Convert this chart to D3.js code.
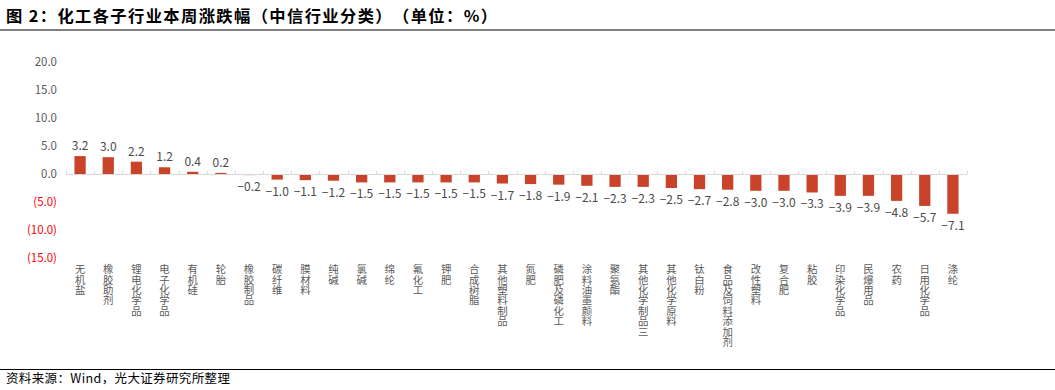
<!DOCTYPE html>
<html><head><meta charset="utf-8">
<script src="https://cdn.jsdelivr.net/npm/d3@7"></script>
<style>
html,body{margin:0;padding:0;background:#fff;}
svg{display:block;font-family:"Noto Sans CJK SC","Noto Sans",sans-serif;font-kerning:none;text-spacing-trim:space-all;}
.vlab{writing-mode:vertical-rl;text-orientation:upright;}
</style></head>
<body><svg id="c" width="1055" height="390"></svg>
<script>
const categories = ["无机盐","橡胶助剂","锂电化学品","电子化学品","有机硅","轮胎","橡胶制品","碳纤维","膜材料","纯碱","氯碱","绵纶","氟化工","钾肥","合成树脂","其他塑料制品","氮肥","磷肥及磷化工","涂料油墨颜料","聚氨酯","其他化学制品三","其他化学原料","钛白粉","食品及饲料添加剂","改性塑料","复合肥","粘胶","印染化学品","民爆用品","农药","日用化学品","涤纶"];
const values = [3.2,3.0,2.2,1.2,0.4,0.2,-0.2,-1.0,-1.1,-1.2,-1.5,-1.5,-1.5,-1.5,-1.5,-1.7,-1.8,-1.9,-2.1,-2.3,-2.3,-2.5,-2.7,-2.8,-3.0,-3.0,-3.3,-3.9,-3.9,-4.8,-5.7,-7.1];
const yTicks = [20,15,10,5,0,-5,-10,-15];
const title = "图 2：化工各子行业本周涨跌幅（中信行业分类）（单位：%）";
const source = "资料来源：Wind，光大证券研究所整理";

const svg = d3.select("#c");
const x = d3.scaleBand().domain(categories).range([66,967]).paddingInner(0.6).paddingOuter(0.3);
const y = d3.scaleLinear().domain([-15,20]).range([258,62]);

// title
svg.append("text").attr("x",6).attr("y",22).attr("font-size",16.3).attr("font-weight","bold").attr("fill","#000")
  .attr("textLength",491).attr("lengthAdjust","spacing").text(title);
svg.append("line").attr("x1",0).attr("x2",1055).attr("y1",30).attr("y2",30).attr("stroke","#808080").attr("stroke-width",2);

// y tick labels
const fmt = v => v < 0 ? "(" + d3.format(".1f")(-v) + ")" : d3.format(".1f")(v);
const yAxis = d3.axisLeft(y).tickValues(yTicks).tickFormat(fmt).tickSize(0).tickPadding(0);
const ga = svg.append("g").attr("transform","translate(57,0)").call(yAxis);
ga.select(".domain").remove();
ga.selectAll("text").attr("font-size",11.5).attr("font-family","'Noto Sans CJK SC',sans-serif")
  .attr("fill", d => d < 0 ? "#ff0000" : "#595959");

// bars
svg.append("g").selectAll("rect").data(values).join("rect")
  .attr("x",(d,i)=>x(categories[i]))
  .attr("width",x.bandwidth())
  .attr("y",d=>y(Math.max(0,d)))
  .attr("height",d=>Math.abs(y(d)-y(0)))
  .attr("fill","#C8432A");

// x axis line and ticks
const x0 = 66, x1 = 967;
svg.append("line").attr("x1",x0).attr("x2",x1).attr("y1",y(0)+0.5).attr("y2",y(0)+0.5).attr("stroke","#d9d9d9").attr("stroke-width",1);
const bnd = d3.range(categories.length+1).map(i => x0 + i*(x1-x0)/categories.length);
svg.append("g").selectAll("line").data(bnd).join("line")
  .attr("x1",d=>Math.round(d)+0.5).attr("x2",d=>Math.round(d)+0.5)
  .attr("y1",y(0)-3).attr("y2",y(0)).attr("stroke","#d9d9d9");

// value labels
svg.append("g").selectAll("text").data(values).join("text")
  .attr("x",(d,i)=>x(categories[i])+x.bandwidth()/2)
  .attr("y",d=> d>=0 ? y(d)-6 : y(d)+16)
  .attr("text-anchor","middle").attr("font-size",12).attr("fill","#4a4a4a")
  .text(d=>d3.format(".1f")(d));

// category labels, one character per stacked vertical text
const chars = categories.flatMap(c => Array.from(c).map((ch,j)=>({c, ch, j})));
svg.append("g").selectAll("text").data(chars).join("text")
  .attr("class","vlab")
  .attr("x",d=>x(d.c)+x.bandwidth()/2)
  .attr("y",d=>264 + d.j*10.4)
  .attr("font-size",10.4).attr("fill","#595959")
  .text(d=>d.ch);

// footer
svg.append("line").attr("x1",0).attr("x2",1055).attr("y1",369.5).attr("y2",369.5).attr("stroke","#000").attr("stroke-width",1);
svg.append("text").attr("x",6).attr("y",383).attr("font-size",12.5).attr("fill","#000")
  .attr("textLength",224).attr("lengthAdjust","spacing").text(source);
</script></body></html>
